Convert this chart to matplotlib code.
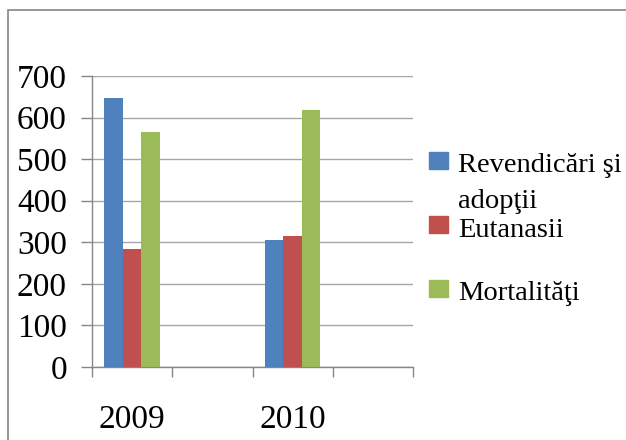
import matplotlib
matplotlib.use("Agg")
import matplotlib.pyplot as plt
from matplotlib.patches import Rectangle
import numpy as np

categories = ["2009", "", "2010", ""]
series_names = ["Revendicări şi\nadopţii", "Eutanasii", "Mortalităţi"]
revendicari = [648, 0, 305, 0]
eutanasii = [285, 0, 315, 0]
mortalitati = [565, 0, 618, 0]
colors = ["#4F81BD", "#C0504D", "#9BBB59"]
yticks = [0, 100, 200, 300, 400, 500, 600, 700]

W, H = 626, 440
fig = plt.figure(figsize=(W / 100, H / 100), dpi=100)
plt.rcParams['font.family'] = ['Liberation Serif', 'DejaVu Serif']

ax = fig.add_axes([92 / W, 1 - 367 / H, (413 - 92) / W, (367 - 76) / H])
x = np.arange(len(categories))
bw = 0.23
for i, (vals, c) in enumerate(zip([revendicari, eutanasii, mortalitati], colors)):
    ax.bar(x + (i - 1) * bw, vals, width=bw, color=c, zorder=3)

ax.set_xlim(-0.5, len(categories) - 0.5)
ax.set_ylim(0, 700)
ax.set_yticks(yticks)
ax.set_yticklabels([str(v) for v in yticks], fontsize=24)
ax.grid(axis='y', color='#A6A6A6', lw=1, zorder=0)
ax.set_axisbelow(True)

# x ticks at category boundaries, labels at centers
ax.set_xticks(np.arange(len(categories) + 1) - 0.5)
ax.set_xticklabels([])
ax.set_xticks(x, minor=True)
ax.set_xticklabels(categories, minor=True, fontsize=24)
ax.tick_params(axis='x', which='major', length=7, width=1, color='#868686', direction='out')
ax.tick_params(axis='x', which='minor', length=0, pad=27)
ax.tick_params(axis='y', length=8, width=1, color='#868686', pad=10)

for s in ['top', 'right']:
    ax.spines[s].set_visible(False)
for s in ['left', 'bottom']:
    ax.spines[s].set_color('#868686')
    ax.spines[s].set_linewidth(1)

# legend drawn manually
leg_y = [152, 216, 280]
text_base = [172, 237, 300]
for name, c, py, by in zip(series_names, colors, leg_y, text_base):
    fig.patches.append(Rectangle((429 / W, 1 - (py + 17) / H), 19 / W, 17 / H,
                                 transform=fig.transFigure, color=c))
    lines = name.split("\n")
    fig.text(458 / W, 1 - by / H, lines[0], fontsize=20.5, ha='left', va='baseline')
    if len(lines) > 1:
        fig.text(458 / W, 1 - (by + 36) / H, lines[1], fontsize=20.5, ha='left', va='baseline')

# chart border
fig.patches.append(Rectangle((8 / W, -0.05), 1.1, 1 - 10 / H + 0.05,
                             transform=fig.transFigure, fill=False,
                             edgecolor='#868686', lw=1.2))

fig.savefig("out.png", dpi=100)
